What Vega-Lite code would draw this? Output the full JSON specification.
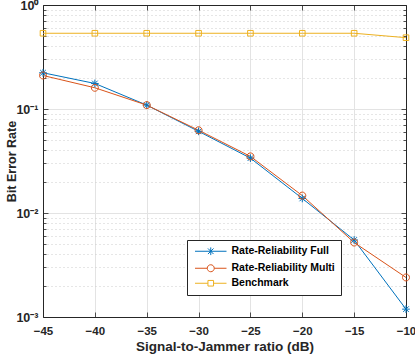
{
  "$schema": "https://vega.github.io/schema/vega-lite/v6.json",
  "width": 363,
  "height": 312,
  "autosize": {"type": "none"},
  "padding": {"left": 43, "top": 5, "right": 9, "bottom": 41},
  "background": "white",
  "config": {
    "view": {"stroke": null},
    "font": "Liberation Sans",
    "axis": {
      "labelFont": "Liberation Sans",
      "labelFontWeight": "bold",
      "labelFontSize": 11.5,
      "labelColor": "#262626",
      "titleFont": "Liberation Sans",
      "titleFontWeight": "bold",
      "titleFontSize": 13.5,
      "titleColor": "#262626",
      "domainColor": "#262626",
      "domainWidth": 1,
      "tickColor": "#262626",
      "tickWidth": 0.8,
      "labelFlush": false,
      "labelOverlap": false,
      "labelBound": false
    }
  },
  "data": {
    "values": [
      {"snr": -45, "ber": 0.223, "series": "Rate-Reliability Full"},
      {"snr": -40, "ber": 0.176, "series": "Rate-Reliability Full"},
      {"snr": -35, "ber": 0.109, "series": "Rate-Reliability Full"},
      {"snr": -30, "ber": 0.061, "series": "Rate-Reliability Full"},
      {"snr": -25, "ber": 0.0337, "series": "Rate-Reliability Full"},
      {"snr": -20, "ber": 0.0138, "series": "Rate-Reliability Full"},
      {"snr": -15, "ber": 0.0055, "series": "Rate-Reliability Full"},
      {"snr": -10, "ber": 0.00119, "series": "Rate-Reliability Full"},
      {"snr": -45, "ber": 0.21, "series": "Rate-Reliability Multi"},
      {"snr": -40, "ber": 0.16, "series": "Rate-Reliability Multi"},
      {"snr": -35, "ber": 0.109, "series": "Rate-Reliability Multi"},
      {"snr": -30, "ber": 0.0625, "series": "Rate-Reliability Multi"},
      {"snr": -25, "ber": 0.035, "series": "Rate-Reliability Multi"},
      {"snr": -20, "ber": 0.0147, "series": "Rate-Reliability Multi"},
      {"snr": -15, "ber": 0.0052, "series": "Rate-Reliability Multi"},
      {"snr": -10, "ber": 0.0024, "series": "Rate-Reliability Multi"},
      {"snr": -45, "ber": 0.535, "series": "Benchmark"},
      {"snr": -40, "ber": 0.535, "series": "Benchmark"},
      {"snr": -35, "ber": 0.535, "series": "Benchmark"},
      {"snr": -30, "ber": 0.535, "series": "Benchmark"},
      {"snr": -25, "ber": 0.535, "series": "Benchmark"},
      {"snr": -20, "ber": 0.535, "series": "Benchmark"},
      {"snr": -15, "ber": 0.535, "series": "Benchmark"},
      {"snr": -10, "ber": 0.485, "series": "Benchmark"}
    ]
  },
  "encoding": {
    "color": {
      "field": "series",
      "type": "nominal",
      "scale": {
        "domain": ["Rate-Reliability Full", "Rate-Reliability Multi", "Benchmark"],
        "range": ["#0072BD", "#D95319", "#EDB120"]
      },
      "legend": {
        "title": null,
        "orient": "none",
        "legendX": 144,
        "legendY": 235,
        "direction": "vertical",
        "fillColor": "white",
        "strokeColor": "#262626",
        "padding": 6,
        "cornerRadius": 0,
        "labelFont": "Liberation Sans",
        "labelFontWeight": "bold",
        "labelFontSize": 10.5,
        "labelColor": "#000000",
        "symbolOffset": 12.5,
        "labelOffset": 15.5,
        "rowPadding": 4,
        "symbolStrokeWidth": 1,
        "symbolSize": 49,
        "encode": {
          "symbols": {
            "update": {
              "fill": {"value": "transparent"},
              "strokeWidth": {"value": 1},
              "shape": {"signal": "datum.value === 'Rate-Reliability Full' ? 'M-4.5,0H4.5M0,-1.1V1.1M-0.8,-0.8L0.8,0.8M-0.8,0.8L0.8,-0.8' : datum.value === 'Rate-Reliability Multi' ? 'M-4.5,0H-1M1,0H4.5M1,0A1,1,0,1,1,-1,0A1,1,0,1,1,1,0Z' : 'M-4.5,0H-0.8M0.8,0H4.5M-0.8,-0.8H0.8V0.8H-0.8Z'"}
            }
          }
        }
      }
    }
  },
  "layer": [
    {
      "mark": {"type": "line", "strokeWidth": 1},
      "encoding": {
        "x": {
          "field": "snr",
          "type": "quantitative",
          "scale": {"domain": [-45, -10], "nice": false, "zero": false},
          "axis": {
            "orient": "bottom",
            "values": [-45, -40, -35, -30, -25, -20, -15, -10],
            "grid": true,
            "gridColor": "#e3e3e3",
            "tickSize": -5,
            "labelPadding": 13,
            "title": "Signal-to-Jammer ratio (dB)",
            "titlePadding": 3
          }
        },
        "y": {
          "field": "ber",
          "type": "quantitative",
          "scale": {"type": "log", "domain": [0.001, 1], "nice": false},
          "axis": {
            "orient": "left",
            "values": [0.001, 0.002, 0.003, 0.004, 0.005, 0.006, 0.007, 0.008, 0.009, 0.01, 0.02, 0.03, 0.04, 0.05, 0.06, 0.07, 0.08, 0.09, 0.1, 0.2, 0.3, 0.4, 0.5, 0.6, 0.7, 0.8, 0.9, 1],
            "labelExpr": "abs(datum.value - 1) < 1e-9 ? '10⁰' : abs(datum.value - 0.1) < 1e-9 ? '10⁻¹' : abs(datum.value - 0.01) < 1e-9 ? '10⁻²' : abs(datum.value - 0.001) < 1e-9 ? '10⁻³' : ''",
            "labelFontSize": 12.5,
            "grid": true,
            "gridColor": {"condition": {"test": "abs(log(datum.value)/LN10 - round(log(datum.value)/LN10)) < 0.000001", "value": "#e3e3e3"}, "value": "#cccccc"},
            "gridDash": {"condition": {"test": "abs(log(datum.value)/LN10 - round(log(datum.value)/LN10)) < 0.000001", "value": []}, "value": [1, 3]},
            "tickSize": {"condition": {"test": "abs(log(datum.value)/LN10 - round(log(datum.value)/LN10)) < 0.000001", "value": -5}, "value": -3},
            "labelPadding": 10,
            "title": "Bit Error Rate",
            "titleFontSize": 12.5,
            "titlePadding": -3
          }
        }
      }
    },
    {
      "transform": [{"filter": "datum.series === 'Rate-Reliability Full'"}],
      "mark": {"type": "point", "filled": false, "strokeWidth": 1, "size": 49, "opacity": 1, "shape": "M-1.1,0H1.1M0,-1.1V1.1M-0.8,-0.8L0.8,0.8M-0.8,0.8L0.8,-0.8"},
      "encoding": {
        "x": {
          "field": "snr",
          "type": "quantitative",
          "scale": {"domain": [-45, -10], "nice": false, "zero": false},
          "axis": {
            "orient": "top",
            "values": [-45, -40, -35, -30, -25, -20, -15, -10],
            "grid": false,
            "labels": false,
            "tickSize": -5,
            "title": null
          }
        },
        "y": {
          "field": "ber",
          "type": "quantitative",
          "scale": {"type": "log", "domain": [0.001, 1], "nice": false},
          "axis": {
            "orient": "right",
            "values": [0.001, 0.002, 0.003, 0.004, 0.005, 0.006, 0.007, 0.008, 0.009, 0.01, 0.02, 0.03, 0.04, 0.05, 0.06, 0.07, 0.08, 0.09, 0.1, 0.2, 0.3, 0.4, 0.5, 0.6, 0.7, 0.8, 0.9, 1],
            "grid": false,
            "labels": false,
            "tickSize": {"condition": {"test": "abs(log(datum.value)/LN10 - round(log(datum.value)/LN10)) < 0.000001", "value": -5}, "value": -3},
            "title": null
          }
        }
      }
    },
    {
      "transform": [{"filter": "datum.series === 'Rate-Reliability Multi'"}],
      "mark": {"type": "point", "filled": false, "strokeWidth": 1, "size": 49, "opacity": 1, "shape": "M1,0A1,1,0,1,1,-1,0A1,1,0,1,1,1,0Z"},
      "encoding": {
        "x": {"field": "snr", "type": "quantitative", "axis": null},
        "y": {"field": "ber", "type": "quantitative", "axis": null}
      }
    },
    {
      "transform": [{"filter": "datum.series === 'Benchmark'"}],
      "mark": {"type": "point", "filled": false, "strokeWidth": 1, "size": 49, "opacity": 1, "shape": "M-0.8,-0.8H0.8V0.8H-0.8Z"},
      "encoding": {
        "x": {"field": "snr", "type": "quantitative", "axis": null},
        "y": {"field": "ber", "type": "quantitative", "axis": null}
      }
    }
  ],
  "resolve": {"axis": {"x": "independent", "y": "independent"}}
}
